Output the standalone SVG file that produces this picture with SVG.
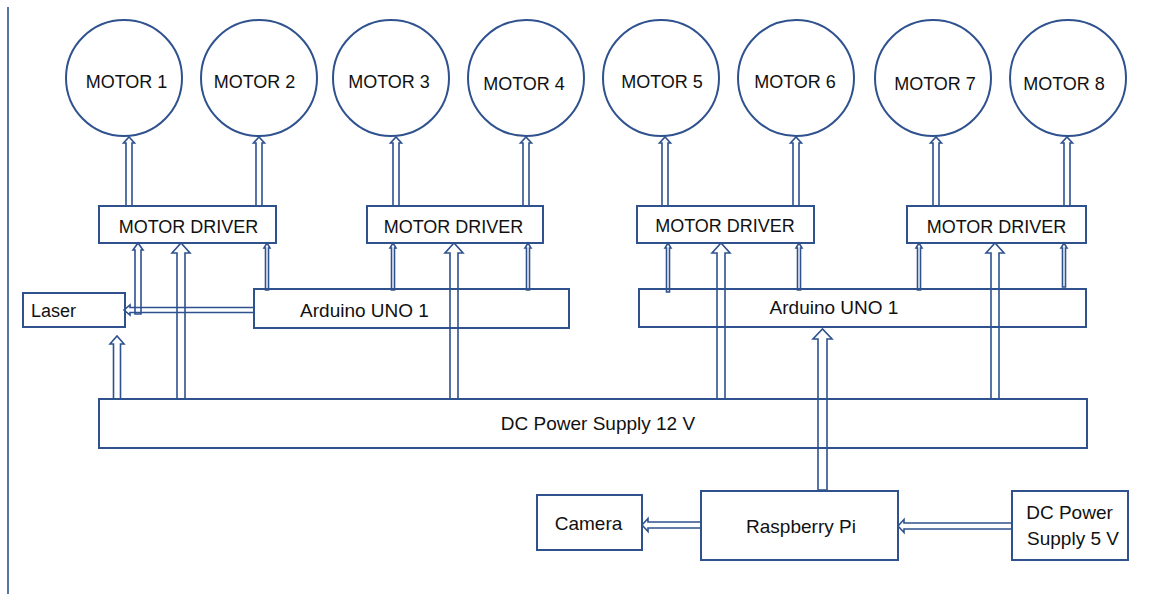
<svg xmlns="http://www.w3.org/2000/svg" width="1154" height="594" viewBox="0 0 1154 594">
<style>
.c{fill:#fff;stroke:#2F528F;stroke-width:2}
.b{fill:#fff;stroke:#2F528F;stroke-width:2}
.a{fill:none;stroke:#2F528F;stroke-width:1.6;stroke-linejoin:miter}
.t{font-family:"Liberation Sans",Arial,sans-serif;font-size:18px;fill:#111;text-anchor:middle}
.t2{font-family:"Liberation Sans",Arial,sans-serif;font-size:19px;fill:#111;text-anchor:middle}
</style>
<rect width="1154" height="594" fill="#fff"/>
<line x1="8" y1="7" x2="8" y2="594" stroke="#2F528F" stroke-width="1.6"/>
<g id="motor1"><circle class="c" cx="124" cy="78" r="58"/><text class="t" x="126.5" y="88">MOTOR 1</text></g>
<g id="motor2"><circle class="c" cx="259" cy="78" r="58"/><text class="t" x="254.5" y="88">MOTOR 2</text></g>
<g id="motor3"><circle class="c" cx="391" cy="78" r="58"/><text class="t" x="389" y="88">MOTOR 3</text></g>
<g id="motor4"><circle class="c" cx="526" cy="78" r="58"/><text class="t" x="524" y="89.5">MOTOR 4</text></g>
<g id="motor5"><circle class="c" cx="661" cy="78" r="58"/><text class="t" x="662" y="88">MOTOR 5</text></g>
<g id="motor6"><circle class="c" cx="796" cy="78" r="58"/><text class="t" x="795" y="88">MOTOR 6</text></g>
<g id="motor7"><circle class="c" cx="933" cy="78" r="58"/><text class="t" x="935" y="89.5">MOTOR 7</text></g>
<g id="motor8"><circle class="c" cx="1068" cy="78" r="58"/><text class="t" x="1064" y="89.5">MOTOR 8</text></g>
<g id="driver1"><rect class="b" x="99" y="206" width="177" height="37"/><text class="t" x="188.5" y="233">MOTOR DRIVER</text></g>
<g id="driver2"><rect class="b" x="367" y="206" width="176" height="37"/><text class="t" x="453.5" y="233">MOTOR DRIVER</text></g>
<g id="driver3"><rect class="b" x="637" y="206" width="177" height="37"/><text class="t" x="725" y="232">MOTOR DRIVER</text></g>
<g id="driver4"><rect class="b" x="907" y="206" width="179" height="37"/><text class="t" x="996.5" y="233">MOTOR DRIVER</text></g>
<g id="laser"><rect class="b" x="23" y="293" width="102" height="34"/><text class="t" x="53.5" y="317">Laser</text></g>
<g id="arduino1"><rect class="b" x="254" y="289" width="315" height="39"/><text class="t2" x="364.5" y="317">Arduino UNO 1</text></g>
<g id="arduino2"><rect class="b" x="639" y="289" width="447" height="38"/><text class="t2" x="834" y="314">Arduino UNO 1</text></g>
<g id="dc12"><rect class="b" x="99" y="399" width="988" height="49"/><text class="t2" x="598" y="430">DC Power Supply 12 V</text></g>
<g id="camera"><rect class="b" x="537" y="495" width="105" height="55"/><text class="t2" x="588.5" y="530">Camera</text></g>
<g id="raspi"><rect class="b" x="701" y="491" width="197" height="69"/><text class="t2" x="801" y="533">Raspberry Pi</text></g>
<g id="dc5"><rect class="b" x="1012" y="491" width="116" height="69"/><text class="t2" x="1069.5" y="519">DC Power</text><text class="t2" x="1073" y="545">Supply 5 V</text></g>
<g id="connectors">
<!-- driver to motor -->
<polygon class="a" points="126,206 126,143 123.5,143 129,137 134.5,143 132,143 132,206"/>
<polygon class="a" points="256,206 256,143 253.5,143 259,137 264.5,143 262,143 262,206"/>
<polygon class="a" points="393,206 393,143 390.5,143 396,137 401.5,143 399,143 399,206"/>
<polygon class="a" points="523,206 523,143 520.5,143 526,137 531.5,143 529,143 529,206"/>
<polygon class="a" points="662,206 662,143 659.5,143 665,137 670.5,143 668,143 668,206"/>
<polygon class="a" points="793,206 793,143 790.5,143 796,137 801.5,143 799,143 799,206"/>
<polygon class="a" points="933,206 933,143 930.5,143 936,137 941.5,143 939,143 939,206"/>
<polygon class="a" points="1064,206 1064,143 1061.5,143 1067,137 1072.5,143 1070,143 1070,206"/>
<!-- arduino to driver -->
<polygon class="a" points="265.5,290 265.5,248 264,248 267,243 270,248 268.5,248 268.5,290"/>
<polygon class="a" points="391.5,290 391.5,248 390,248 393,243 396,248 394.5,248 394.5,290"/>
<polygon class="a" points="526.5,290 526.5,248 525,248 528,243 531,248 529.5,248 529.5,290"/>
<polygon class="a" points="666.5,292 666.5,248 665,248 668,243 671,248 669.5,248 669.5,292"/>
<polygon class="a" points="797.5,290 797.5,248 796,248 799,243 802,248 800.5,248 800.5,290"/>
<polygon class="a" points="917.5,290 917.5,248 916,248 919,243 922,248 920.5,248 920.5,290"/>
<polygon class="a" points="1062.5,287 1062.5,248 1061,248 1064,243 1067,248 1065.5,248 1065.5,287"/>
<!-- arduino to laser with branch to driver 1 -->
<polygon class="a" points="254,307.5 130,307.5 130,305 124,310 130,315 130,312.5 254,312.5"/>
<polygon class="a" points="135,314 135,250 133,250 138,243 143,250 141,250 141,314"/>
<!-- power to drivers -->
<polygon class="a" points="177,399 177,253 172,253 181,243 190,253 185,253 185,399"/>
<polygon class="a" points="450,399 450,253 445,253 454,243 463,253 458,253 458,399"/>
<polygon class="a" points="717,399 717,253 712,253 721,243 730,253 725,253 725,399"/>
<polygon class="a" points="991,399 991,253 986,253 995,243 1004,253 999,253 999,399"/>
<!-- power to laser -->
<polygon class="a" points="113.5,399 113.5,344 110,344 117,336 124,344 120.5,344 120.5,399"/>
<!-- raspberry pi to arduino 2 -->
<polygon class="a" points="818,490 818,339 813,339 822.5,329 832,339 827,339 827,490"/>
<!-- raspberry pi to camera -->
<polygon class="a" points="701,522 648,522 648,518.5 642,525 648,531.5 648,528 701,528"/>
<!-- dc 5v to raspberry pi -->
<polygon class="a" points="1012,523 904,523 904,519.5 898,526 904,532.5 904,529 1012,529"/>
</g>
</svg>
